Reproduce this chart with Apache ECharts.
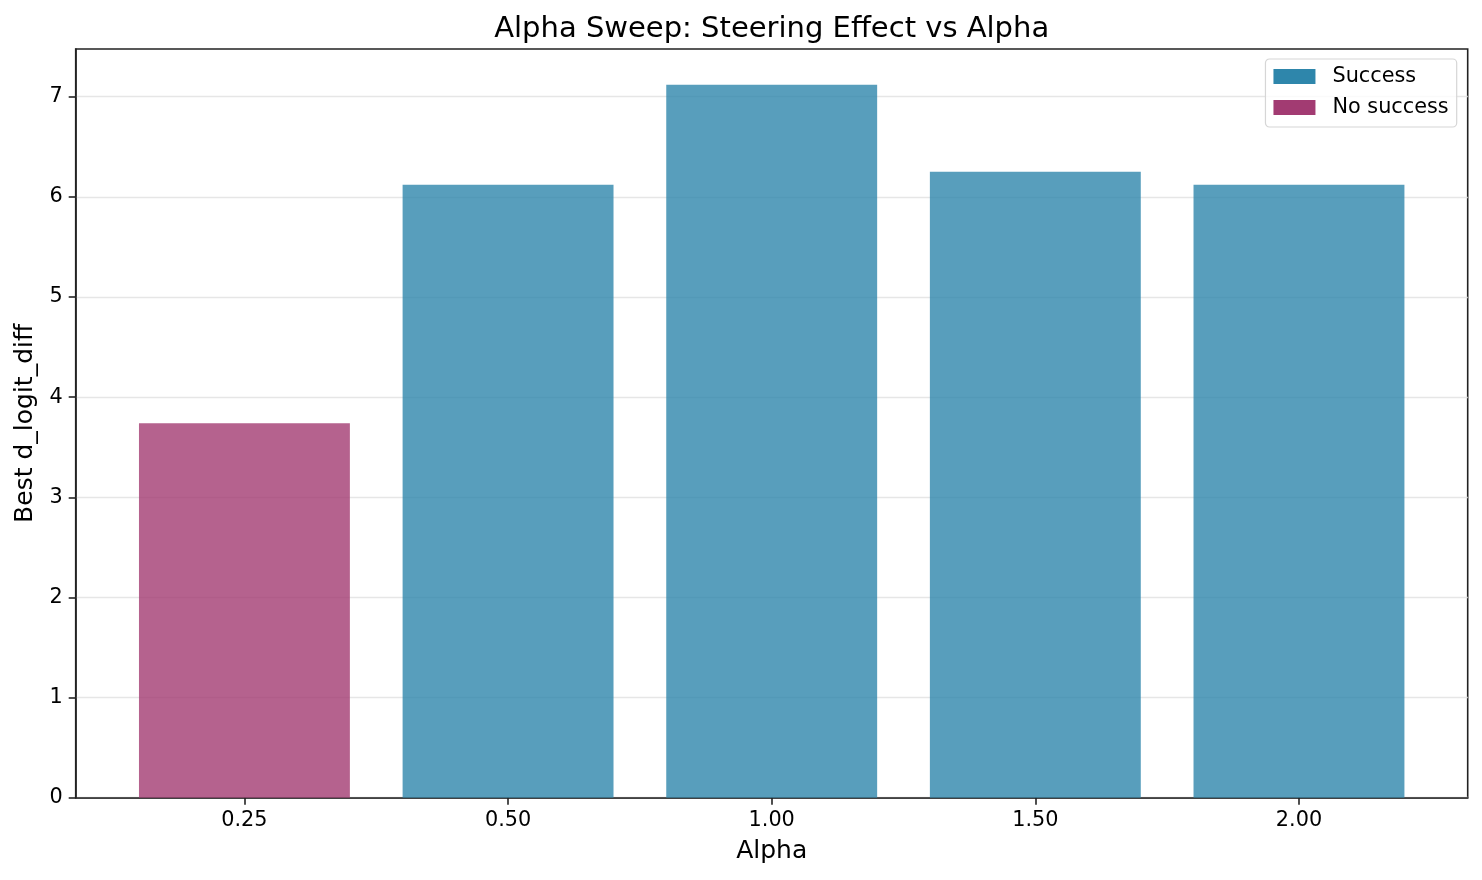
<!DOCTYPE html>
<html>
<head>
<meta charset="utf-8">
<script src="https://cdn.jsdelivr.net/npm/echarts@6/dist/echarts.min.js"></script>
<style>
html,body{margin:0;padding:0;background:#fff;}
#chart{width:1482px;height:880px;}
</style>
</head>
<body>
<div id="chart"></div>
<script>
const alphaLabels = ['0.25', '0.50', '1.00', '1.50', '2.00'];
const bestDiff = [3.74, 6.12, 7.12, 6.25, 6.12];
const successFlags = [false, true, true, true, true];
const yTickValues = [0, 1, 2, 3, 4, 5, 6, 7];

const FONT = 'DejaVu Sans';
const blue = '#2E86AB';
const pink = '#A23B72';

const idx = alphaLabels.map((_, i) => i);
const successData = idx.filter(i => successFlags[i]).map(i => [i, bestDiff[i]]);
const failData = idx.filter(i => !successFlags[i]).map(i => [i, bestDiff[i]]);
const yMax = Math.max(...bestDiff) * 1.05;
const n = alphaLabels.length;
const xMin = -0.4 - 0.05 * (n - 0.2);
const xMax = (n - 1) + 0.4 + 0.05 * (n - 0.2);

const chart = echarts.init(document.getElementById('chart'), null, {renderer: 'canvas'});
const gridLeft = 75.7, gridRight = 14.3;
const plotW = 1482 - gridLeft - gridRight;
const barW = 0.8 * plotW / (xMax - xMin);
const plotCenter = gridLeft + plotW / 2;

chart.setOption({
  animation: false,
  backgroundColor: '#ffffff',
  textStyle: {fontFamily: FONT},
  title: {
    text: 'Alpha Sweep: Steering Effect vs Alpha',
    left: plotCenter - 5,
    textAlign: 'center',
    top: 10,
    textStyle: {fontFamily: FONT, fontSize: 29, fontWeight: 'normal', color: '#000'}
  },
  legend: {
    orient: 'vertical',
    right: 25.3,
    top: 59,
    padding: [7, 8, 9, 8],
    itemGap: 10,
    itemWidth: 42,
    itemHeight: 15,
    borderColor: '#d6d6d6',
    borderWidth: 1.2,
    borderRadius: 4,
    backgroundColor: 'rgba(255,255,255,0.8)',
    textStyle: {fontFamily: FONT, fontSize: 20.8, color: '#000', padding: [0, 0, 0, 12]},
    data: [
      {name: 'Success', icon: 'rect', itemStyle: {color: blue, opacity: 1}},
      {name: 'No success', icon: 'rect', itemStyle: {color: pink, opacity: 1}}
    ]
  },
  grid: {
    left: gridLeft, right: gridRight, top: 49, bottom: 82.3,
    show: true, borderColor: '#222', borderWidth: 1.6, backgroundColor: 'transparent'
  },
  xAxis: {
    type: 'value',
    min: xMin,
    max: xMax,
    name: 'Alpha',
    nameLocation: 'middle',
    nameGap: 41,
    nameTextStyle: {fontFamily: FONT, fontSize: 25, color: '#000'},
    axisLine: {show: true, onZero: false, lineStyle: {color: '#222', width: 1.6}},
    axisTick: {show: true, length: 7, lineStyle: {color: '#222', width: 1.6}, customValues: idx},
    axisLabel: {
      customValues: idx,
      margin: 12,
      fontFamily: FONT, fontSize: 20.8, color: '#000',
      formatter: v => alphaLabels[Math.round(v)]
    },
    splitLine: {show: false}
  },
  yAxis: {
    type: 'value',
    min: 0,
    max: yMax,
    interval: 1,
    name: 'Best d_logit_diff',
    nameLocation: 'middle',
    nameGap: 38,
    nameTextStyle: {fontFamily: FONT, fontSize: 25, color: '#000'},
    axisLine: {show: true, onZero: false, lineStyle: {color: '#222', width: 1.6}},
    axisTick: {show: true, length: 7, lineStyle: {color: '#222', width: 1.6}, customValues: yTickValues},
    axisLabel: {
      customValues: yTickValues,
      margin: 13,
      fontFamily: FONT, fontSize: 20.8, color: '#000',
      formatter: v => String(v)
    },
    splitLine: {show: true, lineStyle: {color: '#e6e6e6', width: 1.4}}
  },
  series: [
    {
      name: 'Success',
      type: 'bar',
      data: successData,
      barWidth: barW,
      barGap: '-100%',
      itemStyle: {color: blue, opacity: 0.8}
    },
    {
      name: 'No success',
      type: 'bar',
      data: failData,
      barWidth: barW,
      barGap: '-100%',
      itemStyle: {color: pink, opacity: 0.8}
    }
  ]
});
</script>
</body>
</html>
